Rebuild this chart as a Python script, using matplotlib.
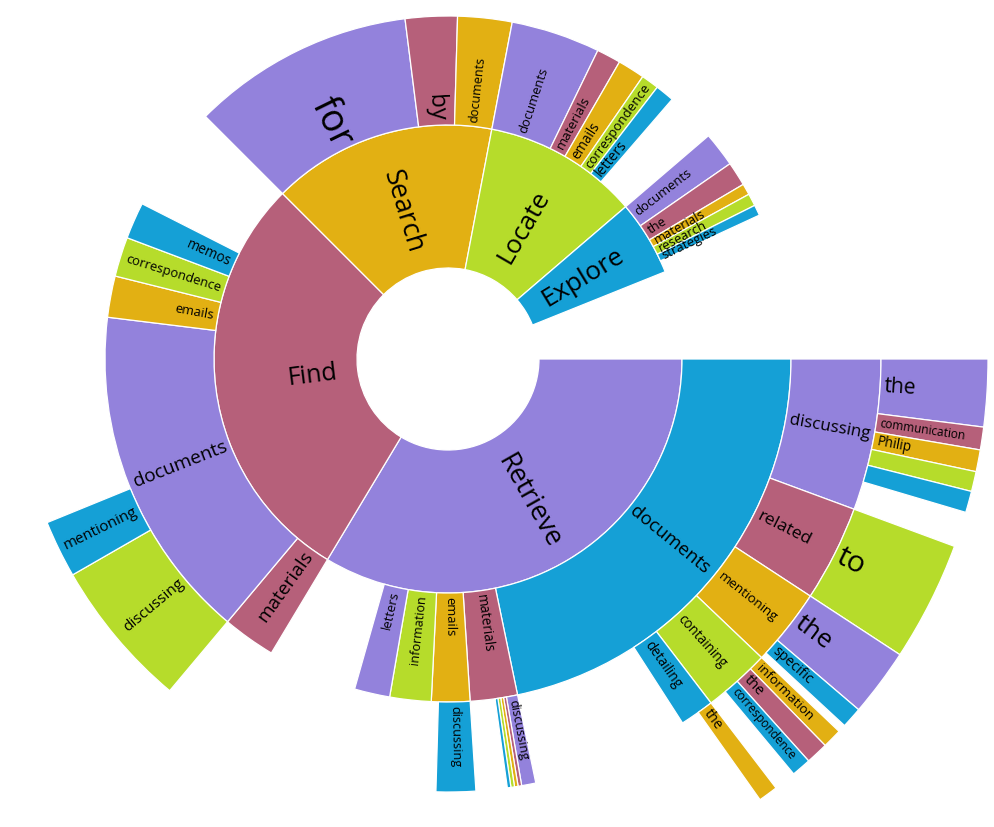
import matplotlib
matplotlib.use("Agg")
import matplotlib.pyplot as plt
from matplotlib.patches import Wedge
import numpy as np

# ---------------- data ----------------
# word-tree sunburst: each node = (label, parent index, angular weight in degrees)
labels = [
    "Retrieve", "Find", "Search", "Locate", "Explore",
    # Retrieve ->
    "documents", "materials", "emails", "information", "letters",
    # Find ->
    "materials", "documents", "emails", "correspondence", "memos",
    # Search ->
    "for", "by", "documents",
    # Locate ->
    "documents", "materials", "emails", "correspondence", "letters",
    # Explore ->
    "documents", "the", "materials", "research", "strategies",
    # Retrieve/documents ->
    "discussing", "related", "mentioning", "containing", "detailing",
    # Retrieve/materials ->
    "discussing", "", "", "", "",
    # Retrieve/emails ->
    "discussing",
    # Find/documents ->
    "discussing", "mentioning",
    # Retrieve/documents/discussing ->
    "the", "communication", "Philip", "", "",
    # Retrieve/documents/related ->
    "to",
    # Retrieve/documents/mentioning ->
    "the", "specific",
    # Retrieve/documents/containing ->
    "information", "the", "correspondence",
    # Retrieve/documents/detailing ->
    "the",
]
parents = [
    -1, -1, -1, -1, -1,
    0, 0, 0, 0, 0,
    1, 1, 1, 1, 1,
    2, 2, 2,
    3, 3, 3, 3, 3,
    4, 4, 4, 4, 4,
    5, 5, 5, 5, 5,
    6, 6, 6, 6, 6,
    7,
    11, 11,
    28, 28, 28, 28, 28,
    29,
    30, 30,
    31, 31, 31,
    32,
]
values = [
    121.0, 104.0, 55.8, 38.6, 18.7,
    78.3, 8.0, 6.5, 7.0, 6.0,
    9.0, 57.0, 7.0, 6.7, 6.2,
    37.8, 8.8, 9.2,
    15.1, 4.1, 4.6, 3.0, 3.2,
    5.9, 4.1, 1.9, 2.1, 1.8,
    20.3, 12.9, 10.4, 9.0, 4.6,
    1.9, 0.48, 0.48, 0.48, 0.48,
    5.3,
    20.1, 7.7,
    7.25, 2.45, 2.35, 2.15, 2.3,
    12.9,
    7.3, 2.25,
    2.1, 2.4, 2.1,
    2.1,
]
total_degrees = 360.0

# ---------------- style ----------------
palette = ["#9382DC", "#B6607A", "#E2B013", "#B6DC2B", "#15A0D6"]
color_idx = [
    0, 1, 2, 3, 4,
    4, 1, 2, 3, 0,
    1, 0, 2, 3, 4,
    0, 1, 2,
    0, 1, 2, 3, 4,
    0, 1, 2, 3, 4,
    0, 1, 2, 3, 4,
    0, 1, 2, 3, 4,
    4,
    3, 4,
    0, 1, 2, 3, 4,
    3,
    0, 4,
    2, 1, 4,
    2,
]
label_px = [
    27, 25, 27, 26, 26,
    18.5, 13.5, 13, 12.5, 13,
    19, 19, 13, 13, 13.5,
    38, 24, 12.5,
    13, 13.3, 13.5, 13.3, 14,
    13, 13, 13, 13, 13,
    17, 17.5, 13.4, 13.5, 13.5,
    12.6, 0, 0, 0, 0,
    12.6,
    15.4, 15,
    21, 12, 13.5, 0, 0,
    30,
    26, 14,
    13.4, 14.5, 12,
    14,
]
ring_r = [91, 234, 343, 433, 540]
text_pad = [21, 4, 4, 4]
W, H = 995, 827
cx, cy = 448, H - 359
root_start = 0.0
font = "Open Sans"

# ---------------- layout ----------------
n = len(labels)
depth = []
for i in range(n):
    d, p = 0, parents[i]
    while p != -1:
        d += 1
        p = parents[p]
    depth.append(d)

start = [0.0] * n
end = [0.0] * n
cursor = {-1: root_start}
for i in range(n):
    p = parents[i]
    s = cursor[p]
    e = s - values[i]
    start[i], end[i] = s, e
    cursor[p] = e
    cursor[i] = s

fig = plt.figure(figsize=(W / 100, H / 100), dpi=100)
ax = fig.add_axes([0, 0, 1, 1])
ax.set_xlim(0, W)
ax.set_ylim(0, H)
ax.set_aspect("equal")
ax.axis("off")

for i in range(n):
    d = depth[i]
    r_in, r_out = ring_r[d], ring_r[d + 1]
    w = Wedge((cx, cy), r_out, end[i], start[i], width=r_out - r_in,
              facecolor=palette[color_idx[i]], edgecolor="white", linewidth=0.9)
    ax.add_patch(w)

for i in range(n):
    if not labels[i] or label_px[i] <= 0:
        continue
    d = depth[i]
    r_in = ring_r[d]
    m = (start[i] + end[i]) / 2.0
    ra = r_in + text_pad[d]
    x = cx + ra * np.cos(np.radians(m))
    y = cy + ra * np.sin(np.radians(m))
    if np.cos(np.radians(m)) >= 0:
        rot, ha = m, "left"
    else:
        rot, ha = m + 180.0, "right"
    ax.text(x, y, labels[i], rotation=rot, rotation_mode="anchor",
            ha=ha, va="center", fontsize=label_px[i] * 0.72,
            family=font, color="black", clip_on=False)

fig.savefig("out.png", dpi=100, facecolor="white")
